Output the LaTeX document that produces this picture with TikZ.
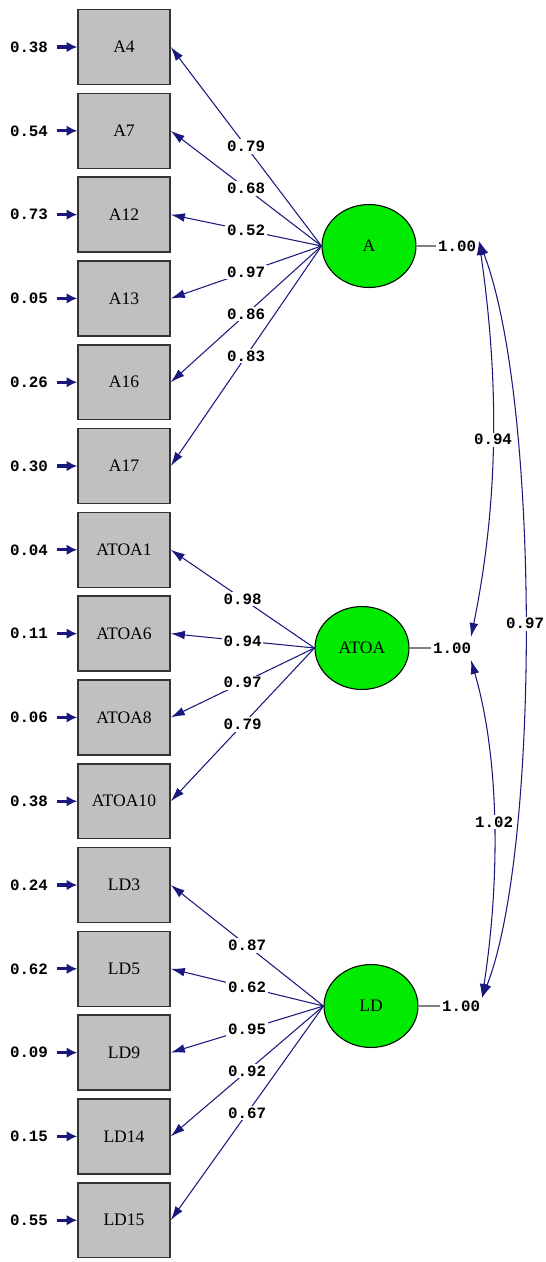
\documentclass[tikz,border=0pt]{standalone}
\usepackage{fontspec}
\newfontfamily\numfont{Liberation Mono}
\newfontfamily\boxfont{Liberation Serif}
\usepackage{tikz}
\usetikzlibrary{positioning}
\usetikzlibrary{shapes.geometric}
\usetikzlibrary{arrows.meta}
\definecolor{pathblue}{RGB}{25,25,125}
\definecolor{boxgray}{RGB}{192,192,192}
\definecolor{latgreen}{RGB}{0,235,0}

\tikzset{
    obs/.style={draw=black!80, line width=0.9pt, fill=boxgray,
        minimum width=1.84cm, minimum height=1.5cm, inner sep=0pt,
        font=\boxfont\fontsize{10}{12}\selectfont},
    lat/.style={ellipse, draw, line width=0.6pt, fill=latgreen,
        minimum width=1.88cm, minimum height=1.66cm, inner sep=0pt,
        font=\boxfont\fontsize{10}{12}\selectfont},
    num/.style={text=black, font=\numfont\bfseries\fontsize{9}{10}\selectfont, inner sep=1pt},
    load/.style={-{Latex[length=8pt, width=5pt]}, pathblue, line width=0.6pt},
    err/.style={-{Latex[length=6pt, width=6pt]}, pathblue, line width=1.8pt, shorten <=4pt},
    cov/.style={{Latex[length=8pt, width=5pt]}-{Latex[length=8pt, width=5pt]}, pathblue, line width=0.6pt}
}

\begin{document}
\begin{tikzpicture}[x=0.02cm, y=-0.02cm]
    \useasboundingbox (0,0) rectangle (545,1262);

    % observed variables with error variances
    \foreach \name/\row/\err in {A4/0/0.38, A7/1/0.54, A12/2/0.73, A13/3/0.05,
        A16/4/0.26, A17/5/0.30, ATOA1/6/0.04, ATOA6/7/0.11, ATOA8/8/0.06,
        ATOA10/9/0.38, LD3/10/0.24, LD5/11/0.62, LD9/12/0.09, LD14/13/0.15,
        LD15/14/0.55} {
        \node[obs] (\name) at (124, 47+83.8*\row) {\name};
        \node[num] (e\name) at (29, 47+83.8*\row) {\err};
        \draw[err] (e\name) -- (\name);
    }

    % latent variables
    \node[lat] (A) at (369,246) {A};
    \node[lat] (ATOA) at (362,648) {ATOA};
    \node[lat] (LD) at (371,1006) {LD};

    % loadings
    \foreach \name/\val in {A4/0.79, A7/0.68, A12/0.52, A13/0.97, A16/0.86, A17/0.83}
        \draw[load] (A.west) -- node[num, fill=white] {\val} (\name.east);
    \foreach \name/\val in {ATOA1/0.98, ATOA6/0.94, ATOA8/0.97, ATOA10/0.79}
        \draw[load] (ATOA.west) -- node[num, fill=white] {\val} (\name.east);
    \foreach \name/\val in {LD3/0.87, LD5/0.62, LD9/0.95, LD14/0.92, LD15/0.67}
        \draw[load] (LD.west) -- node[num, fill=white] {\val} (\name.east);

    % variances of the latent variables
    \node[num, anchor=west] (vA) at (436,246) {1.00};
    \node[num, anchor=west] (vATOA) at (431,648) {1.00};
    \node[num, anchor=west] (vLD) at (440,1006) {1.00};
    \draw[gray, line width=0.6pt] (A.east) -- (vA.west);
    \draw[gray, line width=0.6pt] (ATOA.east) -- (vATOA.west);
    \draw[gray, line width=0.6pt] (LD.east) -- (vLD.west);

    % covariances
    \coordinate (cA) at (479,241);
    \coordinate (cAT1) at (471,637);
    \coordinate (cAT2) at (471,660);
    \coordinate (cLD) at (482,998);
    \draw[cov] (cA) .. controls (499,380) and (499,500) .. node[num, fill=white] {0.94} (cAT1);
    \draw[cov] (cAT2) .. controls (500,760) and (500,880) .. node[num, fill=white] {1.02} (cLD);
    \draw[cov] (cA) .. controls (540,400) and (540,850) .. node[num, fill=white] {0.97} (cLD);
\end{tikzpicture}
\end{document}
